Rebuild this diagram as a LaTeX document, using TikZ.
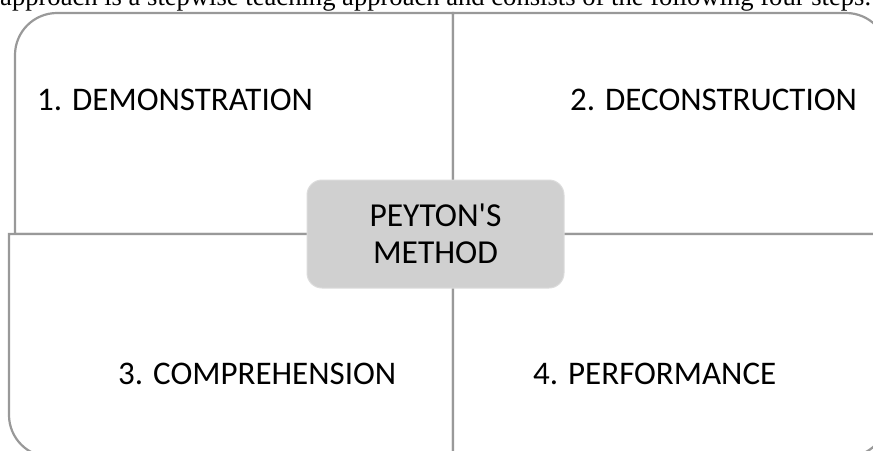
\documentclass[tikz,border=0pt]{standalone}
\usepackage{fontspec}
\setmainfont{Carlito}[Ligatures=TeXOff]
\newfontfamily\introface{Liberation Serif}
\definecolor{linegray}{HTML}{999999}
\definecolor{boxgray}{HTML}{D0D0D0}
\definecolor{boxedge}{HTML}{DCDCDC}
\begin{document}
\begin{tikzpicture}[x=1pt,y=-1pt,
  quad/.style={draw=linegray, line width=2.2pt, fill=white, line join=miter},
  lbl/.style={font=\fontsize{33}{37}\selectfont, anchor=base west, inner sep=0pt, text=black},
  centerbox/.style={fill=boxgray, draw=boxedge, line width=1pt, rounded corners=15pt,
    minimum width=257pt, minimum height=108pt, align=center,
    font=\fontsize{33.5}{37.3}\selectfont, inner sep=0pt}]
\useasboundingbox (0,0) rectangle (873,450);
\clip (0,0) rectangle (873,450);
% intro text (cut by the page top)
\node[anchor=base west, inner sep=0pt, font=\introface\fontsize{26.6}{30}\selectfont] (intro) at (0,5.5)
  {approach is a stepwise teaching approach and consists of the following four steps.};
% quadrants (k = 0.5523*42 = 23.2)
\draw[quad] (453,234) -- (15,234) -- (15,55) .. controls (15,31.8) and (33.8,13) .. (57,13) -- (453,13) -- cycle;
\draw[quad] (453,13) -- (846,13) .. controls (869.2,13) and (888,31.8) .. (888,55) -- (888,234) -- (453,234) -- cycle;
\draw[quad] (9,234) -- (453,234) -- (453,457) -- (51,457) .. controls (27.8,457) and (9,438.2) .. (9,415) -- cycle;
\draw[quad] (453,234) -- (888,234) -- (888,415) .. controls (888,438.2) and (869.2,457) .. (846,457) -- (453,457) -- cycle;
% labels
\node[lbl] (s1) at (37,110) {1. DEMONSTRATION};
\node[lbl] (s2) at (570,110) {2. DECONSTRUCTION};
\node[lbl] (s3) at (118,384) {3. COMPREHENSION};
\node[lbl] (s4) at (533,384) {4. PERFORMANCE};
% centre
\node[centerbox] (peyton) at (435.5,234) {PEYTON'S\\METHOD};
\end{tikzpicture}
\end{document}
